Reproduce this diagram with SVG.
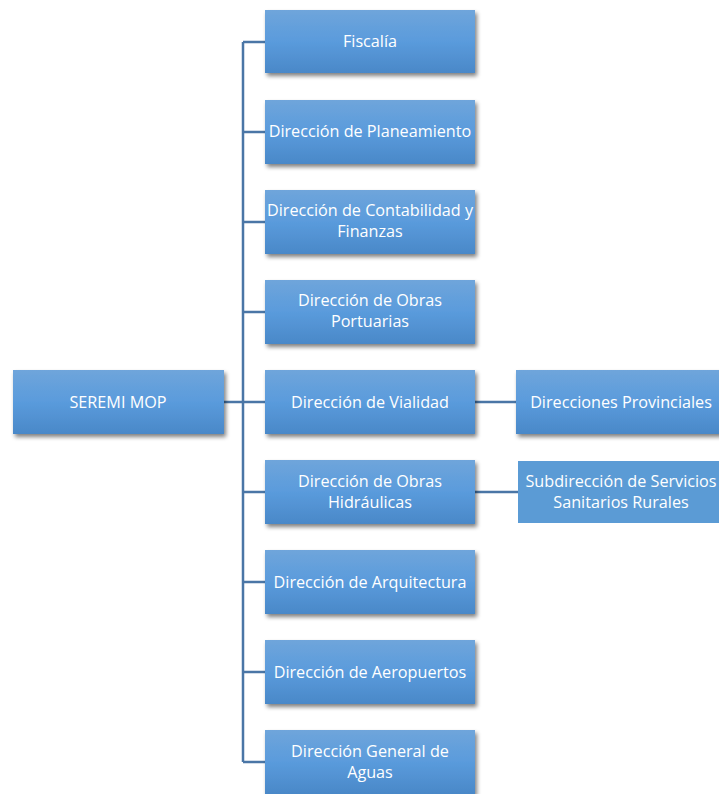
<svg xmlns="http://www.w3.org/2000/svg" width="719" height="794" viewBox="0 0 719 794">
<defs>
<linearGradient id="g" x1="0" y1="0" x2="0" y2="1">
<stop offset="0" stop-color="#6fa5db"/>
<stop offset="0.5" stop-color="#5a9bdc"/>
<stop offset="1" stop-color="#4a88c8"/>
</linearGradient>
<filter id="sh" x="-10%" y="-10%" width="125%" height="140%">
<feGaussianBlur in="SourceAlpha" stdDeviation="2"/>
<feOffset dx="2" dy="3" result="b"/>
<feComponentTransfer><feFuncA type="linear" slope="0.5"/></feComponentTransfer>
<feMerge><feMergeNode/><feMergeNode in="SourceGraphic"/></feMerge>
</filter>
<style>
.box{fill:url(#g);filter:url(#sh)}
.flat{fill:#5b9bd5}
.t{font-family:"Open Sans","Liberation Sans",sans-serif;font-size:16.2px;fill:#ffffff;text-anchor:middle}
.c{stroke:#4a76a6;stroke-width:2.5;fill:none}
</style>
</defs>
<rect width="719" height="794" fill="#ffffff"/>
<g id="connectors">
<path class="c" d="M243 42 V762"/>
<path class="c" d="M243 42 H265 M243 132 H265 M243 222 H265 M243 312 H265 M243 402 H265 M243 492 H265 M243 582 H265 M243 672 H265 M243 762 H265"/>
<path class="c" d="M224 402 H243"/>
<path class="c" d="M475 402 H516"/>
<path class="c" d="M475 492 H518"/>
</g>
<g id="seremi"><rect class="box" x="13" y="370" width="211" height="64"/><text class="t" x="118" y="408">SEREMI MOP</text></g>
<g id="fiscalia"><rect class="box" x="265" y="10" width="210" height="63"/><text class="t" x="370" y="47">Fiscalía</text></g>
<g id="planeamiento"><rect class="box" x="265" y="100" width="210" height="64"/><text class="t" x="370" y="137">Dirección de Planeamiento</text></g>
<g id="contabilidad"><rect class="box" x="265" y="190" width="210" height="64"/><text class="t" x="370" y="216">Dirección de Contabilidad y</text><text class="t" x="370" y="237">Finanzas</text></g>
<g id="portuarias"><rect class="box" x="265" y="280" width="210" height="64"/><text class="t" x="370" y="306">Dirección de Obras</text><text class="t" x="370" y="327">Portuarias</text></g>
<g id="vialidad"><rect class="box" x="265" y="370" width="210" height="64"/><text class="t" x="370" y="408">Dirección de Vialidad</text></g>
<g id="hidraulicas"><rect class="box" x="265" y="460" width="210" height="64"/><text class="t" x="370" y="487">Dirección de Obras</text><text class="t" x="370" y="508">Hidráulicas</text></g>
<g id="arquitectura"><rect class="box" x="265" y="550" width="210" height="64"/><text class="t" x="370" y="588">Dirección de Arquitectura</text></g>
<g id="aeropuertos"><rect class="box" x="265" y="640" width="210" height="64"/><text class="t" x="370" y="678">Dirección de Aeropuertos</text></g>
<g id="aguas"><rect class="box" x="265" y="730" width="210" height="64"/><text class="t" x="370" y="757">Dirección General de</text><text class="t" x="370" y="778">Aguas</text></g>
<g id="provinciales"><rect class="box" x="516" y="370" width="210" height="64"/><text class="t" x="621" y="408">Direcciones Provinciales</text></g>
<g id="sanitarios"><rect class="flat" x="518" y="461" width="210" height="62"/><text class="t" x="621" y="487">Subdirección de Servicios</text><text class="t" x="621" y="508">Sanitarios Rurales</text></g>
</svg>
